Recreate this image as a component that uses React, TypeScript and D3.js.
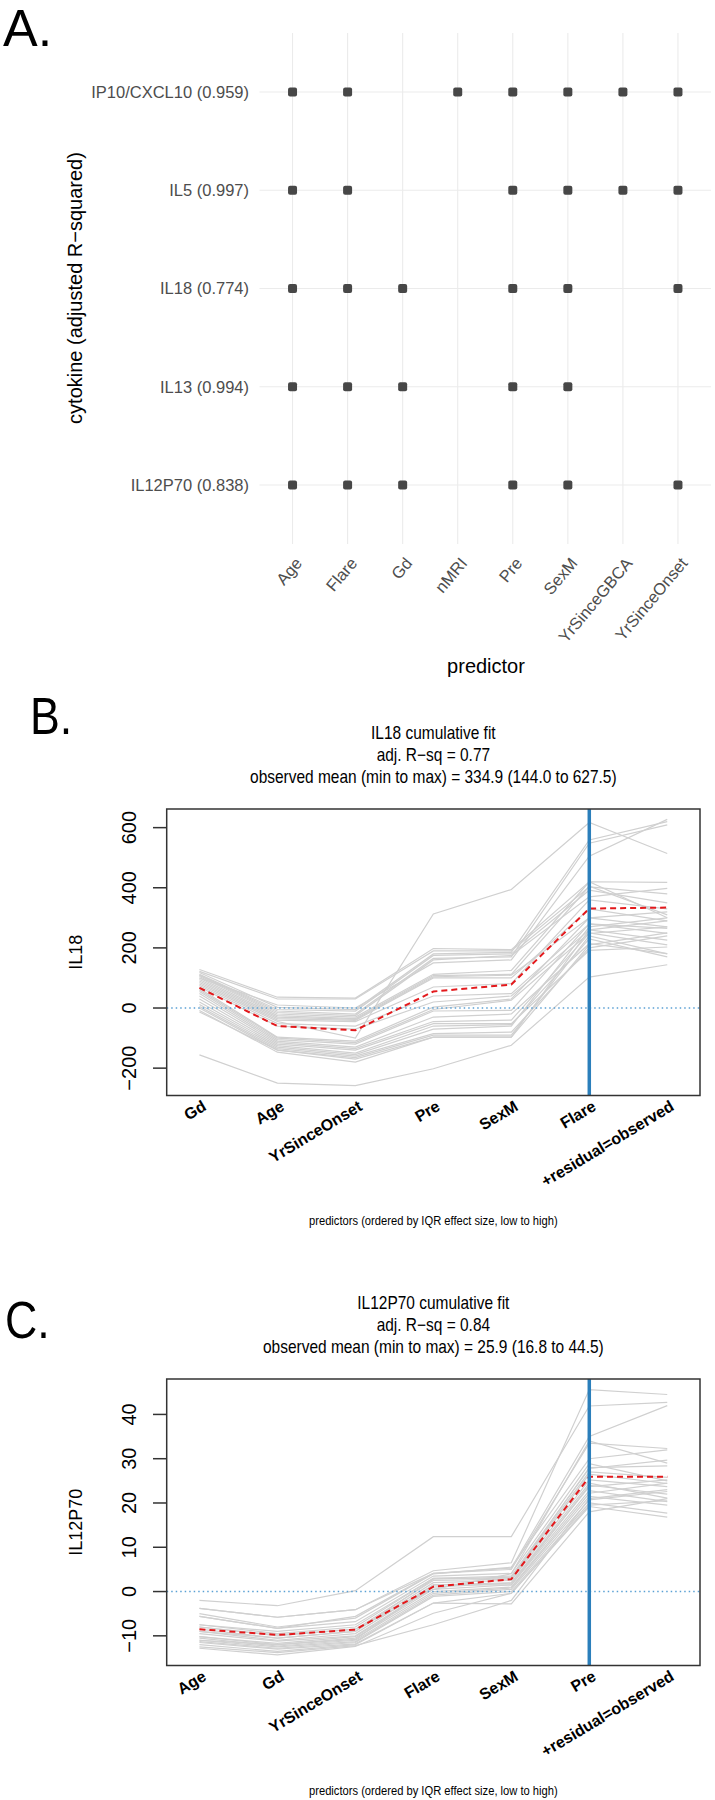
import React from "react";
import * as d3 from "d3";

// ---------- Panel A data ----------
const predictorsA = ["Age", "Flare", "Gd", "nMRI", "Pre", "SexM", "YrSinceGBCA", "YrSinceOnset"];
const cytokinesA = ["IP10/CXCL10 (0.959)", "IL5 (0.997)", "IL18 (0.774)", "IL13 (0.994)", "IL12P70 (0.838)"];
const selectedPredictors = [
  ["Age", "Flare", "nMRI", "Pre", "SexM", "YrSinceGBCA", "YrSinceOnset"],
  ["Age", "Flare", "Pre", "SexM", "YrSinceGBCA", "YrSinceOnset"],
  ["Age", "Flare", "Gd", "Pre", "SexM", "YrSinceOnset"],
  ["Age", "Flare", "Gd", "Pre", "SexM"],
  ["Age", "Flare", "Gd", "Pre", "SexM", "YrSinceOnset"],
];

// ---------- Panel B data (IL18) ----------
const il18Steps = ["Gd", "Age", "YrSinceOnset", "Pre", "SexM", "Flare", "+residual=observed"];
const il18Lines = [
  [128, 36, 33, 198, 194, 420, 418],
  [122, 30, 30, 190, 190, 403, 380],
  [118, 2, -5, 180, 185, 559, 620],
  [112, -5, -10, 175, 180, 392, 350],
  [110, -10, -20, 165, 170, 548, 609],
  [108, -15, -25, 160, 175, 370, 398],
  [105, -20, -30, 112, 125, 420, 300],
  [100, -25, -35, 108, 112, 405, 310],
  [95, -30, -38, 104, 109, 300, 270],
  [90, -35, -41, 100, 100, 330, 290],
  [85, -40, -45, 70, 81, 360, 330],
  [80, -45, -100, 313, 394, 617, 514],
  [75, -52, -60, 40, 48, 280, 248],
  [70, -60, -70, 20, 40, 260, 226],
  [65, -97, -110, 3, 30, 300, 320],
  [60, -100, -115, -5, 26, 250, 210],
  [55, -105, -120, -10, -8, 280, 265],
  [48, -110, -130, -30, -20, 214, 181],
  [40, -115, -135, -45, -40, 248, 270],
  [30, -120, -140, -52, -52, 192, 203],
  [20, -125, -150, -60, -55, 230, 170],
  [12, -130, -155, -70, -60, 270, 300],
  [5, -135, -160, -85, -80, 200, 240],
  [0, -140, -170, -97, -97, 260, 290],
  [-8, -147, -180, -97, -97, 210, 250],
  [-13, -140, -165, -90, -90, 240, 180],
  [100, 10, 0, 150, 160, 505, 627.5],
  [-156, -250, -258, -202, -124, 103, 144],
];
const il18Mean = [67, -60, -74, 55, 78, 331, 334];
const il18Ticks = [-200, 0, 200, 400, 600];
const il18Title = ["IL18 cumulative fit", "adj. R\u2212sq = 0.77", "observed mean (min to max) = 334.9 (144.0 to 627.5)"];

// ---------- Panel C data (IL12P70) ----------
const il12Steps = ["Age", "Gd", "YrSinceOnset", "Flare", "SexM", "Pre", "+residual=observed"];
const il12Lines = [
  [-2.0, -3.2, 0.2, 12.4, 12.4, 41.9, 42.7],
  [-3.8, -5.8, -4.1, 4.7, 6.5, 45.6, 44.5],
  [-3.8, -5.8, -4.1, 4.1, 5.3, 35.0, 42.0],
  [-5.6, -8.3, -5.6, 4.1, 5.0, 33.5, 32.3],
  [-5.6, -8.3, -6.8, 3.5, 4.1, 28.9, 25.0],
  [-7.5, -9.0, -7.5, 3.0, 3.5, 27.8, 29.7],
  [-7.5, -9.5, -8.0, 3.0, 3.0, 28.0, 28.4],
  [-8.0, -10.0, -8.5, 2.5, 2.8, 26.5, 24.4],
  [-8.5, -10.5, -9.0, 2.0, 2.5, 25.2, 23.7],
  [-9.0, -11.0, -9.5, 1.5, 2.0, 24.5, 21.1],
  [-9.5, -11.2, -10.0, 1.0, 1.9, 23.7, 25.2],
  [-10.2, -11.7, -10.2, 0.5, 1.5, 22.8, 20.3],
  [-10.2, -12.0, -10.5, 0.0, 1.0, 22.2, 24.5],
  [-10.5, -12.3, -11.0, -0.4, 0.8, 21.5, 19.5],
  [-11.0, -12.5, -11.3, -0.8, 0.5, 20.7, 22.6],
  [-11.3, -12.8, -11.5, -1.1, 0.0, 20.0, 17.7],
  [-11.5, -13.0, -11.8, -2.6, -0.4, 19.2, 16.8],
  [-12.0, -13.5, -12.0, -2.6, -2.8, 18.0, 21.0],
  [-12.8, -14.3, -12.4, -4.9, -0.4, 19.5, 20.5],
  [-12.5, -13.8, -12.2, -7.5, -2.0, 21.0, 23.0],
  [-5.0, -8.0, -6.0, 4.0, 5.5, 30.0, 32.0],
  [-9.0, -10.5, -9.0, 2.8, 3.2, 27.0, 25.8],
  [-11.0, -12.0, -10.8, 1.5, 1.5, 24.0, 22.0],
  [-8.0, -9.8, -8.5, 0.5, 4.0, 34.0, 29.0],
];
const il12Mean = [-8.5, -9.8, -8.6, 1.1, 2.8, 25.9, 25.9];
const il12Ticks = [-10, 0, 10, 20, 30, 40];
const il12Title = ["IL12P70 cumulative fit", "adj. R\u2212sq = 0.84", "observed mean (min to max) = 25.9 (16.8 to 44.5)"];

const FONT = "'Liberation Sans', Arial, Helvetica, sans-serif";
const fmt = (v: number) => (v < 0 ? "\u2212" + Math.abs(v) : String(v));

function PanelA() {
  const x = d3.scalePoint<string>().domain(predictorsA).range([259.5, 711]).padding(0.6);
  const y = d3.scalePoint<string>().domain(cytokinesA).range([33, 544]).padding(0.6);
  return (
    <g fontFamily={FONT}>
      <text x={3} y={46} fontSize={52} fill="#000">A.</text>
      {predictorsA.map((p) => (
        <line key={"v" + p} x1={x(p)} x2={x(p)} y1={33} y2={544} stroke="#ebebeb" strokeWidth={1.1} />
      ))}
      {cytokinesA.map((c) => (
        <line key={"h" + c} x1={259.5} x2={711} y1={y(c)} y2={y(c)} stroke="#ebebeb" strokeWidth={1.1} />
      ))}
      {cytokinesA.map((c, i) =>
        selectedPredictors[i].map((p) => (
          <rect key={c + p} x={(x(p) as number) - 4.5} y={(y(c) as number) - 4.5} width={9} height={9} rx={2} fill="#474747" />
        ))
      )}
      {cytokinesA.map((c) => (
        <text key={"l" + c} x={249} y={y(c)} dy="0.35em" textAnchor="end" fontSize={16.5} fill="#4d4d4d">{c}</text>
      ))}
      {predictorsA.map((p) => (
        <text key={"t" + p} transform={`translate(${(x(p) as number) + 6},${560}) rotate(-50)`} textAnchor="end" dy="0.35em" fontSize={16.5} fill="#4d4d4d">{p}</text>
      ))}
      <text x={486} y={673} textAnchor="middle" fontSize={20} fill="#000">predictor</text>
      <text transform={`translate(82,288) rotate(-90)`} textAnchor="middle" fontSize={20} fill="#000">cytokine (adjusted R{"\u2212"}squared)</text>
    </g>
  );
}

type FitProps = {
  top: number; letter: string; letterX: number; letterY: number;
  steps: string[]; lines: number[][]; mean: number[]; ticks: number[];
  domain: [number, number]; ylab: string; title: string[];
};

function FitPanel(p: FitProps) {
  const left = 166.7, right = 700, top = p.top, bottom = p.top + 286.5;
  const x = d3.scaleLinear().domain([0.58, 7.42]).range([left, right]);
  const y = d3.scaleLinear().domain(p.domain).range([bottom, top]);
  const line = d3.line<number>().x((_, i) => x(i + 1)).y((v) => y(v));
  const cx = (left + right) / 2;
  const sx = 0.86;
  return (
    <g fontFamily={FONT}>
      <text transform={`translate(${p.letterX},${p.letterY}) scale(${sx},1)`} fontSize={52} fill="#000">{p.letter}</text>
      {p.title.map((t, i) => (
        <text key={i} transform={`translate(${cx},${top - 70 + i * 22}) scale(${sx},1)`} textAnchor="middle" fontSize={18} fill="#000">{t}</text>
      ))}
      <clipPath id={"clip" + p.letter}>
        <rect x={left} y={top} width={right - left} height={bottom - top} />
      </clipPath>
      <g clipPath={`url(#clip${p.letter})`}>
        {p.lines.map((l, i) => (
          <path key={i} d={line(l) || ""} fill="none" stroke="#d0d0d0" strokeWidth={1.2} />
        ))}
        <line x1={left} x2={right} y1={y(0)} y2={y(0)} stroke="#5aa0d4" strokeWidth={1.5} strokeDasharray="1.5,3" />
        <path d={line(p.mean) || ""} fill="none" stroke="#e3191c" strokeWidth={2} strokeDasharray="6,4" />
        <line x1={x(6)} x2={x(6)} y1={top} y2={bottom} stroke="#2b7fbb" strokeWidth={3.5} />
      </g>
      <rect x={left} y={top} width={right - left} height={bottom - top} fill="none" stroke="#333" strokeWidth={1.5} />
      {p.ticks.map((t) => (
        <g key={t}>
          <line x1={153} x2={left} y1={y(t)} y2={y(t)} stroke="#333" strokeWidth={1.5} />
          <text transform={`translate(${135.5},${y(t)}) rotate(-90)`} textAnchor="middle" fontSize={20} fill="#000">{fmt(t)}</text>
        </g>
      ))}
      <text transform={`translate(81.5,${(top + bottom) / 2}) rotate(-90)`} textAnchor="middle" fontSize={18} fill="#000">{p.ylab}</text>
      {p.steps.map((s, i) => (
        <text key={s} transform={`translate(${x(i + 1) + 5},${bottom + 9}) rotate(-31)`} textAnchor="end" dy="0.35em" fontSize={16} fontWeight="bold" fill="#000">{s}</text>
      ))}
      <text transform={`translate(${cx},${bottom + 129}) scale(${sx},1)`} textAnchor="middle" fontSize={13} fill="#000">predictors (ordered by IQR effect size, low to high)</text>
    </g>
  );
}

export default function App() {
  return (
    <div style={{ position: "absolute", left: 0, top: 0 }}>
      <svg width={715} height={1800} viewBox="0 0 715 1800" style={{ display: "block", background: "#fff" }}>
        <PanelA />
        <FitPanel top={809} letter="B." letterX={30} letterY={734} steps={il18Steps} lines={il18Lines} mean={il18Mean}
          ticks={il18Ticks} domain={[-291, 662]} ylab="IL18" title={il18Title} />
        <FitPanel top={1379} letter="C." letterX={5} letterY={1338} steps={il12Steps} lines={il12Lines} mean={il12Mean}
          ticks={il12Ticks} domain={[-16.7, 48.0]} ylab="IL12P70" title={il12Title} />
      </svg>
    </div>
  );
}
